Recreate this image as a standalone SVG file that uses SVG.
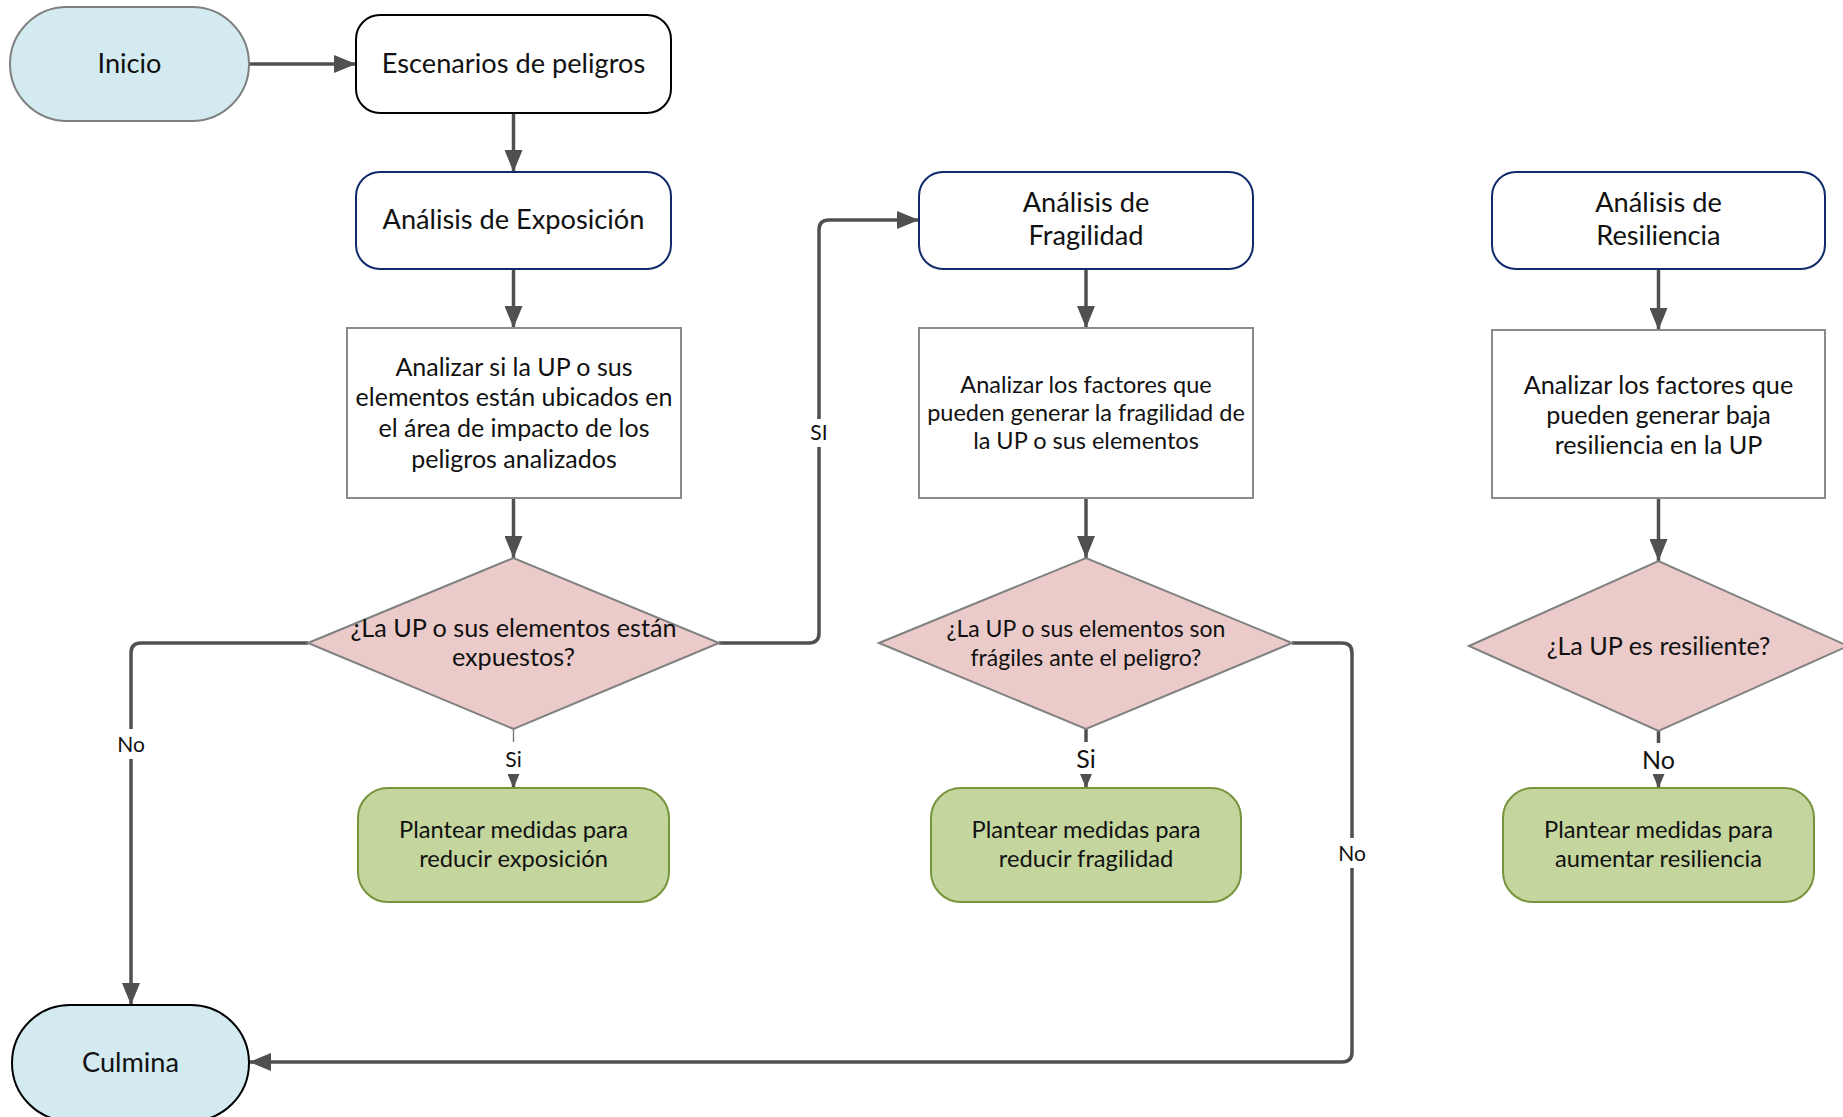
<svg xmlns="http://www.w3.org/2000/svg" width="1843" height="1117" viewBox="0 0 1843 1117">
<defs>
<style>
text{font-family:Lato,"Open Sans","DejaVu Sans",sans-serif;fill:#111;text-anchor:middle}
.term{fill:#d2eaf0}
.proc{fill:#fff;stroke:#102a6b;stroke-width:2}
.box{fill:#fff;stroke:#8a8a8a;stroke-width:2}
.dec{fill:#ebcbca;stroke:#808080;stroke-width:2}
.act{fill:#c4d69e;stroke:#77933c;stroke-width:2}
.c{fill:none;stroke:#505050;stroke-width:3.5}
.thin{fill:none;stroke:#808080;stroke-width:1.5}
.lg{font-size:27.2px}
.a1{font-size:25px}
.d1{font-size:25.2px}
.a2{font-size:23.5px}
.d2{font-size:23px}
.gr{font-size:23.7px}
.r3{font-size:25.2px}
.lb{font-size:21px}
.lb2{font-size:25px}
</style>
<marker id="ah" markerUnits="userSpaceOnUse" markerWidth="22" markerHeight="18" refX="22" refY="9" orient="auto">
<path d="M0,0 L22,9 L0,18 z" fill="#505050"/>
</marker>
<marker id="as" markerUnits="userSpaceOnUse" markerWidth="14" markerHeight="12" refX="14" refY="6" orient="auto">
<path d="M0,0 L14,6 L0,12 z" fill="#505050"/>
</marker>
</defs>
<rect width="1843" height="1117" fill="#fff"/>

<g id="connectors">
<path class="c" d="M249,64 H356" marker-end="url(#ah)"/>
<path class="c" d="M513.5,113 V172" marker-end="url(#ah)"/>
<path class="c" d="M513.5,269 V328" marker-end="url(#ah)"/>
<path class="c" d="M513.5,498 V558" marker-end="url(#ah)"/>
<path class="c" d="M308,643 H141 Q131,643 131,653 V1005" marker-end="url(#ah)"/>
<path class="c" d="M719,643 H809 Q819,643 819,633 V230 Q819,220 829,220 H919" marker-end="url(#ah)"/>
<path class="thin" d="M513.5,729 V742"/>
<path class="c" d="M513.5,774 V788" stroke-width="1" marker-end="url(#as)"/>
<path class="c" d="M1086,269 V328" marker-end="url(#ah)"/>
<path class="c" d="M1086,498 V558" marker-end="url(#ah)"/>
<path class="c" d="M1292,643 H1342 Q1352,643 1352,653 V1052 Q1352,1062 1342,1062 H249" marker-end="url(#ah)"/>
<path class="c" d="M1086,729 V742"/>
<path class="c" d="M1086,774 V788" stroke-width="1" marker-end="url(#as)"/>
<path class="c" d="M1658.5,269 V330" marker-end="url(#ah)"/>
<path class="c" d="M1658.5,498 V561" marker-end="url(#ah)"/>
<path class="c" d="M1658.5,731 V743"/>
<path class="c" d="M1658.5,776 V788" stroke-width="1" marker-end="url(#as)"/>
<rect x="113" y="729" width="36" height="30" fill="#fff"/>
<text class="lb" x="131" y="752">No</text>
<rect x="805" y="419" width="28" height="28" fill="#fff"/>
<text class="lb" x="819" y="440">SI</text>
<text class="lb" x="513.5" y="767">Si</text>
<text class="lb2" x="1086" y="768">Si</text>
<rect x="1333" y="838" width="38" height="30" fill="#fff"/>
<text class="lb" x="1352" y="861">No</text>
<text class="lb2" x="1658.5" y="769">No</text>
</g>

<g id="inicio">
<rect class="term" x="10" y="7" width="239" height="114" rx="57" stroke="#808080" stroke-width="2"/>
<text class="lg" x="129.5" y="73">Inicio</text>
</g>
<g id="escenarios">
<rect x="356" y="15" width="315" height="98" rx="24" fill="#fff" stroke="#000" stroke-width="2"/>
<text class="lg" x="513.5" y="73">Escenarios de peligros</text>
</g>
<g id="exposicion">
<rect class="proc" x="356" y="172" width="315" height="97" rx="24"/>
<text class="lg" x="513.5" y="229">Análisis de Exposición</text>
</g>
<g id="analizar1">
<rect class="box" x="347" y="328" width="334" height="170"/>
<text class="a1" x="514" y="376">Analizar si la UP o sus</text>
<text class="a1" x="514" y="406">elementos están ubicados en</text>
<text class="a1" x="514" y="437">el área de impacto de los</text>
<text class="a1" x="514" y="468">peligros analizados</text>
</g>
<g id="decision1">
<polygon class="dec" points="308,643 513.5,558 719,643 513.5,729"/>
<text class="d1" x="513.5" y="637">¿La UP o sus elementos están</text>
<text class="d1" x="513.5" y="666">expuestos?</text>
</g>
<g id="medidas1">
<rect class="act" x="358" y="788" width="311" height="114" rx="30"/>
<text class="gr" x="513.5" y="838">Plantear medidas para</text>
<text class="gr" x="513.5" y="867">reducir exposición</text>
</g>

<g id="fragilidad">
<rect class="proc" x="919" y="172" width="334" height="97" rx="24"/>
<text class="lg" x="1086" y="212">Análisis de</text>
<text class="lg" x="1086" y="245">Fragilidad</text>
</g>
<g id="analizar2">
<rect class="box" x="919" y="328" width="334" height="170"/>
<text class="a2" x="1086" y="393">Analizar los factores que</text>
<text class="a2" x="1086" y="421">pueden generar la fragilidad de</text>
<text class="a2" x="1086" y="449">la UP o sus elementos</text>
</g>
<g id="decision2">
<polygon class="dec" points="879,643 1086,558 1292,643 1086,729"/>
<text class="d2" x="1086" y="637">¿La UP o sus elementos son</text>
<text class="d2" x="1086" y="666">frágiles ante el peligro?</text>
</g>
<g id="medidas2">
<rect class="act" x="931" y="788" width="310" height="114" rx="30"/>
<text class="gr" x="1086" y="838">Plantear medidas para</text>
<text class="gr" x="1086" y="867">reducir fragilidad</text>
</g>

<g id="resiliencia">
<rect class="proc" x="1492" y="172" width="333" height="97" rx="24"/>
<text class="lg" x="1658.5" y="212">Análisis de</text>
<text class="lg" x="1658.5" y="245">Resiliencia</text>
</g>
<g id="analizar3">
<rect class="box" x="1492" y="330" width="333" height="168"/>
<text class="r3" x="1658.5" y="394">Analizar los factores que</text>
<text class="r3" x="1658.5" y="424">pueden generar baja</text>
<text class="r3" x="1658.5" y="454">resiliencia en la UP</text>
</g>
<g id="decision3">
<polygon class="dec" points="1469,646 1658.5,561 1848,646 1658.5,731"/>
<text class="r3" x="1658.5" y="655">¿La UP es resiliente?</text>
</g>
<g id="medidas3">
<rect class="act" x="1503" y="788" width="311" height="114" rx="30"/>
<text class="gr" x="1658.5" y="838">Plantear medidas para</text>
<text class="gr" x="1658.5" y="867">aumentar resiliencia</text>
</g>

<g id="culmina">
<rect class="term" x="12" y="1005" width="237" height="116" rx="58" stroke="#000" stroke-width="2"/>
<text class="lg" x="130.5" y="1072">Culmina</text>
</g>
</svg>
